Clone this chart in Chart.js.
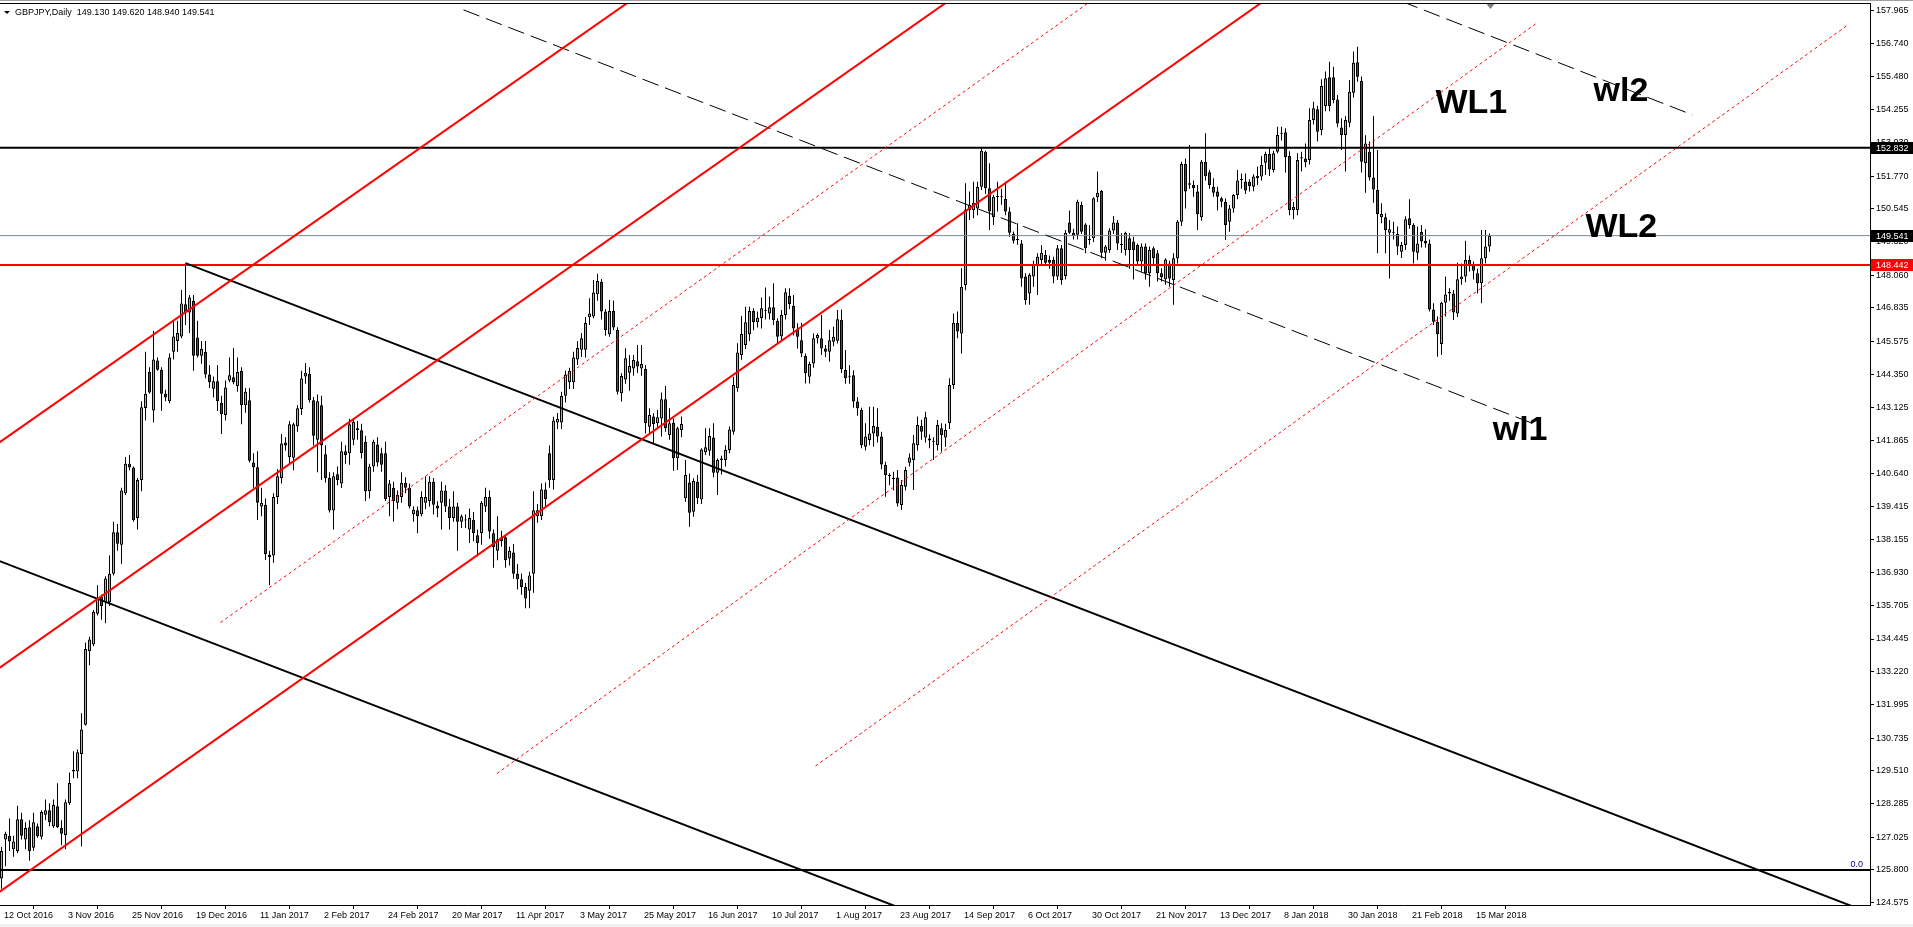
<!DOCTYPE html>
<html>
<head>
<meta charset="utf-8">
<script src="https://cdn.jsdelivr.net/npm/chart.js@4.4.1/dist/chart.umd.min.js"></script>
<style>
  html, body { margin: 0; padding: 0; background: #fff; overflow: hidden; }
  canvas { display: block; }
</style>
</head>
<body>
<canvas id="chart" width="1913" height="927"></canvas>
<script>
// GBPJPY daily, one bar per trading day, label every 16 bars
const dateLabels = ['12 Oct 2016', '3 Nov 2016', '25 Nov 2016', '19 Dec 2016', '11 Jan 2017', '2 Feb 2017',
  '24 Feb 2017', '20 Mar 2017', '11 Apr 2017', '3 May 2017', '25 May 2017', '16 Jun 2017', '10 Jul 2017',
  '1 Aug 2017', '23 Aug 2017', '14 Sep 2017', '6 Oct 2017', '30 Oct 2017', '21 Nov 2017', '13 Dec 2017',
  '8 Jan 2018', '30 Jan 2018', '21 Feb 2018', '15 Mar 2018'];
const labelBars = [0, 16, 32, 48, 64, 80, 96, 112, 128, 144, 160, 176, 192, 208, 224, 240, 256, 272, 288,
  304, 320, 336, 352, 368];

const yTicks = [157.965, 156.740, 155.480, 154.255, 153.030, 151.770, 150.545, 149.320, 148.060, 146.835,
  145.575, 144.350, 143.125, 141.865, 140.640, 139.415, 138.155, 136.930, 135.705, 134.445, 133.220,
  131.995, 130.735, 129.510, 128.285, 127.025, 125.800, 124.575];

// [open, high, low, close]
const ohlc = [
  // 0
  [125.48,126.66,125.10,126.51],[126.94,127.23,125.94,127.16],[127.08,127.73,126.51,126.87],[126.58,127.08,126.30,126.87],
  [126.51,128.20,126.44,127.70],[127.70,127.94,126.94,127.08],[126.94,127.59,126.58,127.37],[127.40,127.66,126.15,126.51],
  [126.63,127.94,126.51,127.59],[127.44,127.54,127.01,127.06],
  // 10
  [127.04,128.04,126.94,127.97],[127.87,128.44,127.66,128.04],[128.04,128.30,127.44,127.59],[127.44,128.44,127.37,128.23],
  [128.19,129.05,127.37,127.40],[127.37,127.66,126.73,127.16],[127.11,128.44,126.58,128.34],[128.30,129.45,128.23,129.06],
  [129.49,130.24,129.23,129.55],[129.49,130.31,129.23,130.21],
  // 20
  [130.14,131.67,126.68,131.06],[131.24,134.31,131.21,134.07],[133.99,134.53,133.46,134.43],[134.24,135.53,134.17,135.46],
  [135.39,136.46,135.32,135.96],[136.03,136.11,135.17,135.68],[135.82,136.79,135.03,136.71],[135.82,137.57,135.68,136.89],
  [136.89,138.83,136.82,138.44],[138.44,138.75,137.75,138.01],
  // 30
  [137.97,140.11,137.25,140.00],[139.90,141.26,139.83,141.00],[141.00,141.33,140.76,140.86],[140.86,140.90,138.83,138.90],
  [138.97,140.47,138.54,140.40],[140.40,143.34,139.97,143.12],[143.09,145.20,142.62,143.62],[144.45,144.62,143.62,143.67],
  [143.00,145.98,142.55,144.91],[144.87,144.98,144.48,144.52],
  // 40
  [144.52,144.62,142.98,143.62],[143.62,143.77,143.34,143.48],[143.34,145.13,143.27,144.98],[145.20,146.34,144.91,145.77],
  [145.60,146.36,145.20,145.90],[145.77,147.51,145.70,147.00],[146.97,148.51,146.20,146.66],[146.66,147.32,145.90,147.23],
  [147.10,147.32,144.48,145.05],[145.73,146.36,144.98,145.05],
  // 50
  [145.05,145.60,144.75,145.30],[145.20,145.60,144.20,144.34],[144.34,144.70,143.84,144.05],[143.81,144.27,143.48,144.09],
  [144.09,144.70,142.98,143.34],[143.29,143.55,142.12,142.86],[142.83,144.12,142.62,143.86],[144.12,144.98,144.05,144.32],
  [144.24,145.34,143.98,144.05],[143.91,144.98,143.70,144.44],
  // 60
  [144.48,144.62,142.48,143.19],[143.19,143.84,142.91,143.70],[143.38,143.84,141.05,141.12],[141.05,141.40,140.11,140.87],
  [140.87,141.47,138.90,139.54],[139.40,140.11,139.04,139.54],[139.47,139.70,137.40,137.62],[137.60,137.75,136.46,137.51],
  [137.57,139.90,137.30,139.76],[139.76,140.80,139.50,140.54],
  // 70
  [140.47,142.12,140.26,141.76],[141.80,142.00,141.50,141.69],[141.26,142.60,141.00,142.48],[141.23,142.55,140.76,142.48],
  [142.41,143.20,142.20,143.08],[143.05,144.48,142.83,144.19],[144.27,144.77,144.00,144.41],[144.37,144.62,143.30,143.38],
  [143.38,143.50,141.69,142.05],[141.90,143.60,140.69,143.34],
  // 80
  [143.19,143.55,140.40,141.69],[141.36,141.70,140.30,140.47],[140.47,140.69,139.18,139.25],[139.25,140.69,138.54,140.54],
  [140.61,140.90,140.20,140.40],[140.26,141.83,140.10,141.47],[141.47,141.70,141.00,141.33],[141.40,142.69,140.97,142.48],
  [141.90,142.70,141.70,142.58],[142.33,142.60,141.90,142.26],
  // 90
  [142.26,142.50,141.20,141.40],[141.83,142.05,139.61,139.97],[139.97,141.00,139.70,140.90],[140.90,141.90,140.70,141.83],
  [141.72,142.00,140.90,141.05],[141.40,141.60,140.70,140.97],[141.40,141.83,139.61,139.68],[139.76,140.40,139.04,140.26],
  [140.11,140.33,138.83,139.61],[139.54,140.00,139.30,139.83],
  // 100
  [139.76,140.69,139.54,140.29],[140.29,140.50,139.90,140.11],[140.11,140.26,139.33,139.40],[139.11,139.40,138.83,139.28],
  [139.26,139.40,138.40,139.04],[139.11,139.97,139.04,139.76],[139.54,140.54,139.30,139.76],[139.61,140.54,139.40,140.33],
  [140.33,140.47,139.11,139.47],[139.44,139.60,139.00,139.33],
  // 110
  [139.54,140.33,138.54,140.00],[140.00,140.20,139.20,139.40],[139.40,139.68,138.54,138.97],[138.97,139.97,138.83,139.40],
  [139.40,139.54,137.75,138.83],[138.83,139.10,138.60,139.04],[138.88,139.10,138.60,138.90],[138.54,139.33,138.04,138.97],
  [138.90,139.20,138.10,138.40],[138.33,138.54,137.54,138.04],
  // 120
  [138.40,139.61,137.97,139.54],[139.40,140.11,139.20,139.76],[139.76,140.00,138.20,138.47],[138.40,138.54,137.11,137.89],
  [137.75,139.04,137.39,138.18],[138.25,138.50,137.90,138.11],[138.25,138.33,137.11,137.39],[137.46,137.90,137.20,137.75],
  [137.68,138.00,136.70,136.89],[136.89,137.25,136.30,136.68],
  // 130
  [136.68,136.90,136.10,136.39],[136.39,136.54,135.60,135.96],[136.25,136.96,135.60,136.82],[136.89,139.97,136.18,139.26],
  [139.04,139.50,138.80,139.26],[139.04,140.26,138.90,140.04],[140.04,140.30,139.40,139.68],[141.40,141.69,140.11,140.40],
  [140.40,142.76,140.04,142.62],[142.55,142.90,142.30,142.69],
  // 140
  [142.55,143.70,142.30,143.55],[143.55,144.48,143.30,144.34],[144.05,144.60,143.80,144.48],[144.05,145.20,143.80,144.98],
  [144.91,145.60,144.70,145.34],[145.27,145.90,145.00,145.70],[145.27,146.50,144.98,146.27],[146.49,147.20,146.20,146.63],
  [146.51,147.88,146.45,147.41],[147.35,148.11,147.10,147.84],
  // 150
  [147.81,147.92,146.40,146.70],[146.70,146.80,145.79,146.01],[145.85,147.13,145.76,146.72],[146.72,147.11,146.00,146.10],
  [146.01,146.11,143.60,143.70],[143.64,144.39,143.33,144.29],[144.16,145.33,144.00,144.95],[144.41,145.07,143.74,144.66],
  [144.57,145.07,144.30,144.89],[144.84,145.45,144.40,144.64],
  // 160
  [144.57,145.45,144.30,144.74],[144.55,144.70,142.14,142.52],[142.39,143.08,142.14,142.83],[142.77,142.89,141.77,142.49],
  [142.52,143.02,142.30,142.74],[142.70,143.67,142.02,143.42],[143.42,143.91,142.20,142.33],[142.08,143.08,141.90,142.52],
  [142.54,142.70,140.74,141.21],[141.21,142.39,140.77,142.33],
  // 170
  [142.27,142.77,142.00,142.49],[139.71,141.14,139.58,140.58],[140.30,140.64,138.65,139.17],[139.21,140.46,139.02,140.36],
  [140.33,140.58,139.50,139.71],[139.67,141.58,139.50,141.54],[141.43,142.33,141.33,141.62],[141.49,142.33,141.30,142.04],
  [141.99,142.52,140.50,140.67],[140.67,141.20,139.83,141.14],
  // 180
  [141.20,141.30,140.60,141.14],[141.14,141.70,140.90,141.52],[141.52,142.40,141.40,142.29],[142.20,144.26,142.10,143.95],
  [143.83,145.51,143.70,145.17],[145.07,146.53,144.90,145.86],[145.45,146.88,145.30,146.30],[145.85,146.88,145.60,146.72],
  [146.72,146.82,146.00,146.30],[146.30,146.70,146.10,146.47],
  // 190
  [146.45,147.23,146.07,146.82],[146.73,147.60,146.40,146.76],[146.63,147.26,146.40,146.86],[146.86,147.76,146.20,146.38],
  [146.36,146.45,145.50,145.76],[145.78,146.76,145.60,146.57],[146.57,147.57,146.40,147.42],[147.29,147.57,146.80,146.98],
  [146.91,147.32,145.80,146.07],[146.05,146.26,145.32,145.76],
  // 200
  [145.63,146.28,145.00,145.13],[145.04,145.13,144.01,144.39],[144.26,144.82,144.01,144.74],[144.76,145.88,144.60,145.70],
  [145.70,145.88,145.50,145.82],[145.70,146.57,145.07,145.32],[145.32,145.45,145.00,145.20],[145.20,146.01,144.82,145.63],
  [145.57,146.13,145.40,145.76],[145.61,146.76,145.50,146.41],
  // 210
  [146.38,146.78,144.40,144.54],[144.51,145.26,144.00,144.20],[144.29,144.70,144.00,144.26],[144.32,144.50,143.10,143.33],
  [143.33,143.50,142.80,143.08],[143.02,143.10,141.58,141.70],[141.64,142.52,141.50,142.02],[141.89,143.14,141.70,142.14],
  [142.14,143.14,141.64,142.42],[142.39,143.08,141.80,142.02],
  // 220
  [142.02,142.20,140.80,140.98],[140.96,141.08,139.77,140.58],[140.55,140.65,140.20,140.58],[140.46,140.70,140.00,140.43],
  [140.49,140.77,139.40,139.52],[139.46,140.40,139.27,140.21],[140.14,140.89,140.00,140.77],[141.04,141.39,140.90,141.24],
  [141.14,142.08,140.02,141.77],[141.70,142.77,141.50,142.45],
  // 230
  [142.42,142.64,141.90,142.20],[141.99,142.95,141.80,142.74],[141.95,142.10,141.58,141.87],[141.83,142.00,141.14,141.83],
  [141.70,142.64,141.50,142.45],[142.33,142.52,141.45,142.08],[141.99,142.50,141.64,142.27],[142.52,144.20,142.30,143.95],
  [143.95,146.63,143.80,146.28],[146.28,146.70,145.70,145.95],
  // 240
  [145.88,148.32,145.13,147.63],[147.69,151.50,147.50,150.52],[150.50,151.19,150.13,150.69],[150.50,151.56,150.19,150.77],
  [150.56,151.56,150.30,151.37],[151.37,152.81,151.25,152.72],[152.68,152.72,151.10,151.31],[151.31,152.25,149.75,150.44],
  [150.23,151.06,149.94,151.00],[150.99,151.56,150.44,151.00],
  // 250
  [151.00,151.30,150.70,150.98],[150.91,151.56,150.30,150.44],[150.44,150.60,149.50,149.65],[149.60,149.70,149.25,149.35],
  [149.40,150.00,149.20,149.38],[149.25,149.38,147.63,147.94],[148.01,148.13,146.95,147.13],[147.38,148.13,146.95,148.07],
  [148.01,148.60,147.63,148.48],[148.44,148.88,147.32,148.75],
  // 260
  [148.63,149.19,148.40,148.90],[148.82,149.00,148.40,148.53],[148.63,148.80,148.30,148.53],[148.63,148.75,147.76,148.01],
  [148.01,149.19,147.88,149.07],[149.07,149.19,147.70,147.88],[148.03,149.75,147.90,149.65],[150.03,150.48,149.60,149.65],
  [149.65,149.80,149.40,149.53],[149.57,150.88,149.40,150.81],
  // 270
  [150.69,150.81,149.60,149.69],[149.96,150.00,148.88,149.07],[149.40,149.94,149.20,149.38],[149.44,150.98,149.30,150.94],
  [150.98,151.94,150.80,151.15],[151.21,151.25,148.69,148.90],[148.90,149.19,148.60,149.13],[149.00,149.82,148.90,149.73],
  [149.73,150.28,149.60,150.03],[150.03,150.13,149.00,149.25],
  // 280
  [149.19,149.63,148.90,149.21],[149.00,149.69,148.80,149.65],[149.44,149.63,148.30,149.00],[149.32,149.50,147.90,149.00],
  [149.19,149.25,148.40,148.57],[148.57,149.25,148.20,149.13],[149.13,149.25,147.90,148.13],[148.13,149.13,147.63,149.00],
  [149.07,149.13,148.40,148.69],[148.88,149.00,147.82,148.13],
  // 290
  [148.13,148.32,147.82,147.98],[147.91,148.69,147.70,148.65],[148.50,148.60,147.63,147.94],[147.88,148.88,146.95,148.69],
  [148.69,150.13,148.50,150.06],[150.06,152.31,149.90,152.22],[152.22,152.43,150.56,151.19],[151.50,152.93,151.30,151.45],
  [151.44,151.60,151.00,151.31],[151.19,151.44,149.75,150.35],
  // 300
  [150.23,152.37,150.10,152.31],[152.31,153.37,151.60,151.77],[151.91,152.00,151.30,151.44],[151.37,151.69,151.00,151.15],
  [151.19,151.37,150.48,151.00],[150.94,151.00,150.60,150.81],[150.81,150.94,149.38,149.94],[150.06,150.69,149.69,150.56],
  [150.56,151.10,150.40,151.06],[151.06,152.00,150.90,151.60],
  // 310
  [151.62,151.87,151.30,151.65],[151.57,151.87,151.10,151.23],[151.56,151.65,151.19,151.40],[151.37,151.84,151.20,151.75],
  [151.77,152.12,151.44,151.69],[151.75,152.52,151.60,152.18],[152.27,152.68,151.81,152.60],[152.60,152.81,151.77,152.02],
  [152.00,152.72,151.90,152.62],[152.68,153.62,152.62,153.31],
  // 320
  [153.39,153.62,153.10,153.35],[153.41,153.56,151.90,152.47],[152.52,152.70,150.30,150.50],[150.50,150.80,150.15,150.62],
  [150.50,152.62,150.30,152.37],[152.43,152.68,151.94,152.47],[152.43,152.99,152.10,152.29],[152.37,154.31,152.20,153.87],
  [153.87,154.55,153.70,154.31],[154.27,154.40,153.06,153.43],
  // 330
  [153.49,155.39,153.30,155.14],[154.39,155.68,154.20,155.43],[155.47,156.05,154.20,154.39],[155.47,155.86,154.50,154.62],
  [154.64,154.80,153.60,153.74],[153.59,153.93,152.75,153.31],[153.31,154.02,151.94,153.87],[153.77,155.37,153.60,154.93],
  [154.89,156.43,154.70,156.01],[156.03,156.61,155.30,155.49],
  // 340
  [155.33,155.50,151.90,152.31],[152.25,153.30,151.15,152.99],[152.68,153.06,151.60,151.72],[151.72,154.02,150.77,151.27],
  [151.25,152.75,148.88,150.35],[150.23,150.75,150.00,150.35],[150.23,150.38,148.88,149.75],[149.65,150.13,147.94,149.78],
  [149.69,150.06,149.40,149.65],[149.60,149.88,148.82,149.13],
  // 350
  [148.94,149.30,148.70,149.19],[149.19,150.27,149.00,150.15],[150.19,150.90,149.80,149.94],[149.94,150.00,148.50,148.94],
  [148.90,149.88,148.63,149.25],[149.69,149.94,149.10,149.32],[149.35,149.78,149.10,149.25],[149.25,149.40,146.70,146.78],
  [146.78,147.01,146.20,146.32],[146.32,146.51,145.01,145.86],
  // 360
  [145.49,147.07,145.07,147.03],[147.03,148.01,146.51,147.34],[147.38,147.57,147.10,147.44],[147.38,147.51,146.38,146.66],
  [146.63,148.53,146.50,147.91],[147.91,148.50,147.70,148.01],[148.01,149.35,147.80,148.63],[148.63,148.80,148.20,148.44],
  [148.44,148.57,147.90,148.23],[148.13,148.30,147.38,147.76],
  // 370
  [147.76,149.75,147.01,148.69],[148.69,149.75,148.50,149.13],[149.130,149.620,148.940,149.541]
];

// drawn objects, in [bar, price, bar, price]
const channelLines = [[-1, 141.75, 160, 158.62], [-1, 133.31, 250, 159.72], [-1, 124.93, 320, 158.79]];
const dottedLines = [[54.75, 135.06, 280, 159.14], [123.85, 129.41, 383.5, 157.46], [203.5, 129.69, 461.25, 157.39]];
const trendLines = [[46, 148.51, 470, 124.02], [-1, 137.39, 230, 124.07]];
const dashedLines = [[115.5, 157.99, 382.5, 142.53], [350, 158.31, 422.75, 154.06]];
const levels = [152.832, 149.541, 148.442, 125.800];
const textLabels = [['WL1', 358.5, 154.13], ['wl2', 398, 154.58], ['WL2', 396, 149.49], ['wl1', 372.8, 141.89]];

const FONT = '"Liberation Sans", Arial, sans-serif';
const UP = '#9ACD32';
const DOWN = '#FF0000';

function segment(l, color, width, dash) {
  return {
    type: 'line',
    data: [{x: l[0], y: l[1]}, {x: l[2], y: l[3]}],
    borderColor: color,
    borderWidth: width,
    borderDash: dash || [],
    pointRadius: 0,
    fill: false,
    tension: 0,
    order: 1
  };
}

const datasets = [];
channelLines.forEach(l => datasets.push(segment(l, '#FF0000', 2)));
dottedLines.forEach(l => datasets.push(segment(l, '#FF0000', 1, [3, 3])));
trendLines.forEach(l => datasets.push(segment(l, '#000000', 2)));
dashedLines.forEach(l => datasets.push(segment(l, '#000000', 1, [17, 7])));
datasets.push(segment([-1, levels[0], 470, levels[0]], '#000000', 2));
datasets.push(segment([-1, levels[1], 470, levels[1]], '#778899', 1));
datasets.push(segment([-1, levels[2], 470, levels[2]], '#FF0000', 2));
datasets.push(segment([-1, levels[3], 470, levels[3]], '#000000', 2));

datasets.push({
  type: 'bar',
  data: ohlc.map((c, i) => ({x: i, y: [Math.min(c[0], c[3]), Math.max(c[0], c[3])]})),
  backgroundColor: ohlc.map(c => c[3] >= c[0] ? UP : DOWN),
  borderColor: '#000000',
  borderWidth: 1,
  borderSkipped: false,
  barThickness: 3,
  minBarLength: 1,
  inflateAmount: 0,
  grouped: false,
  order: 2
});
datasets.push({
  type: 'bar',
  data: ohlc.map((c, i) => ({x: i, y: [c[2], c[1]]})),
  backgroundColor: '#000000',
  borderWidth: 0,
  barThickness: 1,
  inflateAmount: 0,
  grouped: false,
  order: 3
});

const decor = {
  id: 'decor',
  afterDraw(chart) {
    const {ctx, chartArea: a, scales: {x, y}} = chart;
    ctx.save();
    // window frame
    ctx.fillStyle = '#a0a0a0';
    ctx.fillRect(0, 0, chart.width, 1);
    ctx.fillStyle = '#000';
    ctx.fillRect(0, a.top - 1, a.right + 1, 1);
    ctx.fillStyle = '#f0f0f0';
    ctx.fillRect(0, chart.height - 3, chart.width, 3);

    // chart shift marker
    const sx = Math.round(x.getPixelForValue(ohlc.length - 1)) + 0.5;
    ctx.fillStyle = '#808080';
    ctx.beginPath();
    ctx.moveTo(sx - 4, a.top);
    ctx.lineTo(sx + 4, a.top);
    ctx.lineTo(sx, a.top + 5);
    ctx.closePath();
    ctx.fill();

    // header
    const last = ohlc[ohlc.length - 1];
    ctx.fillStyle = '#000';
    ctx.beginPath();
    ctx.moveTo(4, 11); ctx.lineTo(10, 11); ctx.lineTo(7, 14); ctx.closePath();
    ctx.fill();
    ctx.font = '9px ' + FONT;
    ctx.textBaseline = 'middle';
    ctx.textAlign = 'left';
    ctx.fillText('GBPJPY,Daily  ' + last.map(v => v.toFixed(3)).join(' '), 15, 13);

    // Fibonacci level text
    ctx.fillStyle = '#00008B';
    ctx.textAlign = 'right';
    ctx.textBaseline = 'bottom';
    ctx.fillText('0.0', a.right - 7, y.getPixelForValue(levels[3]) - 1);

    // big labels
    ctx.fillStyle = '#000';
    ctx.textAlign = 'left';
    ctx.textBaseline = 'alphabetic';
    ctx.font = 'bold 34px ' + FONT;
    textLabels.forEach(t => ctx.fillText(t[0], x.getPixelForValue(t[1]), y.getPixelForValue(t[2])));

    // price tags on the axis
    ctx.font = '9px ' + FONT;
    ctx.textBaseline = 'middle';
    [[levels[0], '#000000'], [levels[1], '#000000'], [levels[2], '#FF0000']].forEach(([v, col]) => {
      const py = Math.round(y.getPixelForValue(v));
      ctx.fillStyle = col;
      ctx.fillRect(a.right + 1, py - 6, chart.width - a.right - 1, 12);
      ctx.fillStyle = '#fff';
      ctx.fillText(v.toFixed(3), a.right + 6, py + 0.5);
    });
    ctx.restore();
  }
};

new Chart(document.getElementById('chart'), {
  type: 'bar',
  data: {datasets},
  plugins: [decor],
  options: {
    responsive: false,
    animation: false,
    devicePixelRatio: 1,
    layout: {padding: {top: 4, left: 0, right: 0, bottom: 0}},
    plugins: {legend: {display: false}, tooltip: {enabled: false}},
    scales: {
      x: {
        type: 'linear',
        min: -0.375,
        max: 467.125,
        offset: false,
        afterBuildTicks: s => { s.ticks = labelBars.map(v => ({value: v})); },
        afterFit: s => { s.height = 22; s.paddingLeft = 0; s.paddingRight = 0; },
        ticks: {
          autoSkip: false,
          maxRotation: 0,
          align: 'start',
          padding: 1,
          color: '#000',
          font: {family: FONT, size: 9},
          callback: v => ' ' + dateLabels[labelBars.indexOf(v)]
        },
        grid: {drawOnChartArea: false, drawTicks: true, tickLength: 4, color: '#000'},
        border: {display: true, color: '#000', width: 1}
      },
      y: {
        type: 'linear',
        position: 'right',
        min: 124.49,
        max: 158.21,
        afterBuildTicks: s => { s.ticks = yTicks.map(v => ({value: v})); },
        afterFit: s => { s.width = 43; s.paddingTop = 0; s.paddingBottom = 0; },
        ticks: {
          autoSkip: false,
          padding: 2,
          color: '#000',
          font: {family: FONT, size: 9},
          callback: v => v.toFixed(3)
        },
        grid: {drawOnChartArea: false, drawTicks: true, tickLength: 4, color: '#000'},
        border: {display: true, color: '#000', width: 1}
      }
    }
  }
});
</script>
</body>
</html>
